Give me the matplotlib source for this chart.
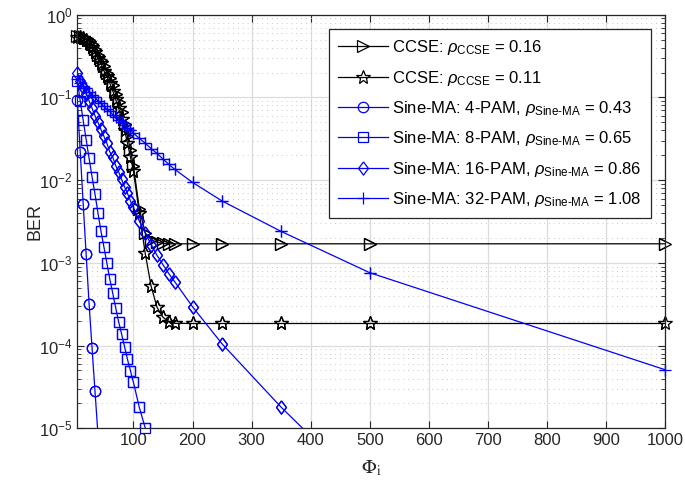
import numpy as np
import matplotlib
matplotlib.use("Agg")
import matplotlib.pyplot as plt
from matplotlib.ticker import LogLocator, NullFormatter, FixedLocator

plt.rcParams["font.family"] = ["Liberation Sans", "DejaVu Sans"]
plt.rcParams["mathtext.fontset"] = "custom"
plt.rcParams["mathtext.rm"] = "Liberation Sans"
plt.rcParams["mathtext.it"] = "Liberation Sans:italic"
plt.rcParams["font.size"] = 12

nan = np.nan

# Phi_i values
phi = [5, 10, 15, 20, 25, 30, 35, 40, 45, 50, 55, 60, 65, 70, 75, 80, 85, 90, 95, 100,
       110, 120, 130, 140, 150, 160, 170, 200, 250, 350, 500, 1000]

# BER curves
ber_ccse_016 = [0.55, 0.55, 0.54, 0.52, 0.49, 0.44, 0.39, 0.33, 0.28, 0.24, 0.20, 0.17, 0.14, 0.11,
                0.088, 0.066, 0.048, 0.034, 0.023, 0.015, 4.5e-3, 2.3e-3, 1.9e-3, 1.78e-3, 1.72e-3,
                1.7e-3, 1.7e-3, 1.7e-3, 1.7e-3, 1.7e-3, 1.7e-3, 1.7e-3]
ber_ccse_011 = [0.54, 0.54, 0.52, 0.50, 0.46, 0.41, 0.35, 0.30, 0.26, 0.21, 0.18, 0.15, 0.12, 0.095,
                0.074, 0.055, 0.040, 0.028, 0.019, 0.013, 4.0e-3, 1.3e-3, 5.2e-4, 2.9e-4, 2.2e-4,
                1.95e-4, 1.86e-4, 1.85e-4, 1.85e-4, 1.85e-4, 1.85e-4, 1.85e-4]
ber_4pam = [9.3e-2, 2.2e-2, 5.2e-3, 1.27e-3, 3.2e-4, 9.4e-5, 2.8e-5, 8.5e-6, nan, nan, nan, nan,
            nan, nan, nan, nan, nan, nan, nan, nan, nan, nan, nan, nan, nan, nan, nan, nan, nan,
            nan, nan, nan]
ber_8pam = [0.16, 9.1e-2, 5.3e-2, 3.1e-2, 1.84e-2, 1.1e-2, 6.8e-3, 4.0e-3, 2.44e-3, 1.57e-3, 1.0e-3,
            6.4e-4, 4.3e-4, 2.87e-4, 1.94e-4, 1.38e-4, 9.7e-5, 6.8e-5, 4.96e-5, 3.6e-5, 1.79e-5,
            1.01e-5, nan, nan, nan, nan, nan, nan, nan, nan, nan, nan]
ber_16pam = [0.20, 0.16, 0.135, 0.11, 0.091, 0.074, 0.060, 0.050, 0.041, 0.034, 0.028, 0.022, 0.019,
             0.015, 0.0126, 0.0102, 8.3e-3, 6.9e-3, 5.6e-3, 4.7e-3, 3.2e-3, 2.3e-3, 1.66e-3, 1.23e-3,
             9.5e-4, 7.4e-4, 5.9e-4, 2.95e-4, 1.05e-4, 1.8e-5, 1.6e-6, nan]
ber_32pam = [0.166, 0.151, 0.138, 0.129, 0.117, 0.107, 0.100, 0.091, 0.085, 0.078, 0.072, 0.068,
             0.062, 0.058, 0.054, 0.050, 0.046, 0.043, 0.040, 0.037, 0.032, 0.028, 0.024, 0.021,
             0.018, 0.0155, 0.0135, 9.4e-3, 5.6e-3, 2.4e-3, 7.6e-4, 5.1e-5]

labels = [r"CCSE: $\rho_{\text{CCSE}}$ = 0.16",
          r"CCSE: $\rho_{\text{CCSE}}$ = 0.11",
          r"Sine-MA: 4-PAM, $\rho_{\text{Sine-MA}}$ = 0.43",
          r"Sine-MA: 8-PAM, $\rho_{\text{Sine-MA}}$ = 0.65",
          r"Sine-MA: 16-PAM, $\rho_{\text{Sine-MA}}$ = 0.86",
          r"Sine-MA: 32-PAM, $\rho_{\text{Sine-MA}}$ = 1.08"]

diamond = [(0, 1), (0.75, 0), (0, -1), (-0.75, 0), (0, 1)]

series = [
    (ber_ccse_016, "k", ">", 9),
    (ber_ccse_011, "k", "*", 10),
    (ber_4pam, "b", "o", 7.5),
    (ber_8pam, "b", "s", 6.5),
    (ber_16pam, "b", diamond, 9.5),
    (ber_32pam, "b", "+", 9),
]

fig = plt.figure(figsize=(6.85, 4.87), dpi=100)
ax = fig.add_axes([0.1128, 0.1205, 0.8584, 0.8493])

x = np.array(phi, dtype=float)
for (ber, col, mk, ms), lab in zip(series, labels):
    y = np.array(ber, dtype=float)
    ax.plot(x, y, color=col, lw=0.9, marker=mk, ms=ms, mfc="none", mec=col, mew=0.9, label=lab)
    # markers on the axes edges are not cut in the reference
    inside = y >= 1e-5
    ax.plot(x[inside], y[inside], ls="none", marker=mk, ms=ms, mfc="none", mec=col, mew=0.9,
            clip_on=False)

ax.set_yscale("log")
ax.set_xlim(5, 1000)
ax.set_ylim(1e-5, 1)
ax.xaxis.set_major_locator(FixedLocator([100, 200, 300, 400, 500, 600, 700, 800, 900, 1000]))
ax.yaxis.set_major_locator(LogLocator(base=10, numticks=10))
ax.yaxis.set_minor_locator(LogLocator(base=10, subs=np.arange(2, 10), numticks=20))
ax.yaxis.set_minor_formatter(NullFormatter())

ax.grid(True, which="major", color="#dcdcdc", lw=0.9, ls="-")
ax.grid(True, which="minor", axis="y", color="#c8c8c8", lw=0.7, ls=(0, (1, 4)))
ax.set_axisbelow(True)

ax.tick_params(which="both", direction="in", top=True, right=True, colors="#262626",
               labelsize=12)
ax.tick_params(which="major", length=5)
ax.tick_params(which="minor", length=3)
for s in ax.spines.values():
    s.set_color("#262626")
    s.set_linewidth(0.9)

ax.set_ylabel("BER", fontsize=13, color="#262626", labelpad=-3)
xl = ax.set_xlabel(r"$\Phi_\mathrm{i}$", fontsize=14, color="#262626", labelpad=7)
xl.set_math_fontfamily("stix")

leg = ax.legend(loc="upper right", bbox_to_anchor=(0.9752, 0.9654), borderaxespad=0,
                fontsize=12, frameon=True, fancybox=False, edgecolor="#262626", framealpha=1,
                handlelength=3.0, labelspacing=0.68, borderpad=0.55, handletextpad=0.25)
leg.get_frame().set_linewidth(0.9)

fig.savefig("out.png", dpi=100)
